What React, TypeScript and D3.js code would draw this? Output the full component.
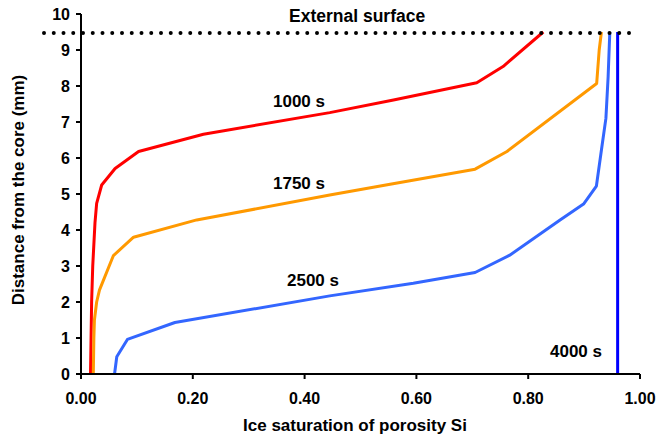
import React from 'react';
import * as d3 from 'd3';

// ice saturation (x) vs distance from core in mm (y)
const s1000x = [0.017, 0.018, 0.019, 0.021, 0.025, 0.028, 0.037, 0.061, 0.103, 0.219, 0.445, 0.559, 0.708, 0.755, 0.827];
const s1000y = [0, 1, 2, 3, 4.2, 4.74, 5.25, 5.71, 6.18, 6.66, 7.26, 7.61, 8.09, 8.54, 9.5];
const s1750x = [0.022, 0.023, 0.024, 0.028, 0.033, 0.058, 0.094, 0.207, 0.445, 0.553, 0.705, 0.762, 0.9225, 0.927, 0.931];
const s1750y = [0, 1, 1.5, 2.0, 2.33, 3.29, 3.8, 4.28, 4.97, 5.27, 5.69, 6.18, 8.07, 9.0, 9.5];
const s2500x = [0.06, 0.064, 0.083, 0.168, 0.445, 0.5945, 0.705, 0.767, 0.857, 0.899, 0.922, 0.931, 0.939, 0.943, 0.946];
const s2500y = [0, 0.48, 0.96, 1.43, 2.17, 2.52, 2.82, 3.3, 4.28, 4.72, 5.22, 6.22, 7.1, 8.26, 9.5];
const s4000x = [0.96, 0.96];
const s4000y = [0, 9.5];

const surfaceLevel = 9.47;
const xTicks = [0, 0.2, 0.4, 0.6, 0.8, 1.0];
const yTicks = [0, 1, 2, 3, 4, 5, 6, 7, 8, 9, 10];

const W = 659;
const H = 440;
const font = '"Liberation Sans", Arial, sans-serif';

const x = d3.scaleLinear().domain([0, 1]).range([81, 640]);
const y = d3.scaleLinear().domain([0, 10]).range([374, 14]);

const series = [
  { xs: s1000x, ys: s1000y, color: '#ff0000' },
  { xs: s1750x, ys: s1750y, color: '#ff9900' },
  { xs: s2500x, ys: s2500y, color: '#3366ff' },
  { xs: s4000x, ys: s4000y, color: '#0000ff' },
];

const line = d3.line<[number, number]>()
  .x(d => x(d[0]))
  .y(d => y(d[1]));

export default function App() {
  return (
    <svg width={W} height={H} style={{ position: 'absolute', left: 0, top: 0, background: '#fff' }}
      fontFamily={font} fontWeight="bold">
      {/* curves */}
      {series.map((s, i) => (
        <path key={i} d={line(s.xs.map((v, j) => [v, s.ys[j]] as [number, number])) || ''}
          fill="none" stroke={s.color} strokeWidth={3} strokeLinejoin="round" />
      ))}

      {/* external surface dotted line */}
      <line x1={44} x2={638} y1={y(surfaceLevel)} y2={y(surfaceLevel)}
        stroke="#000" strokeWidth={4} strokeLinecap="round" strokeDasharray="0 9.75" />

      {/* axes */}
      <line x1={x(0)} x2={x(0)} y1={y(0) + 1} y2={y(10)} stroke="#000" strokeWidth={2} />
      <line x1={x(0) - 1} x2={x(1)} y1={y(0)} y2={y(0)} stroke="#000" strokeWidth={2} />
      {yTicks.map(t => (
        <g key={'y' + t}>
          <line x1={x(0) - 5} x2={x(0)} y1={y(t)} y2={y(t)} stroke="#000" strokeWidth={2} />
          <text x={70} y={y(t) + 6} textAnchor="end" fontSize={16}>{t}</text>
        </g>
      ))}
      {xTicks.map(t => (
        <g key={'x' + t}>
          <line x1={x(t)} x2={x(t)} y1={y(0)} y2={y(0) + 5} stroke="#000" strokeWidth={2} />
          <text x={x(t)} y={404} textAnchor="middle" fontSize={16}>{t.toFixed(2)}</text>
        </g>
      ))}

      {/* axis titles */}
      <text x={355} y={431} textAnchor="middle" fontSize={17}>Ice saturation of porosity Si</text>
      <text transform="translate(24,190) rotate(-90)" textAnchor="middle" fontSize={17}>
        Distance from the core (mm)
      </text>

      {/* annotations */}
      <text x={289} y={22} fontSize={17.5}>External surface</text>
      <text x={273} y={107} fontSize={17}>1000 s</text>
      <text x={273} y={189} fontSize={17}>1750 s</text>
      <text x={287} y={286} fontSize={17}>2500 s</text>
      <text x={550} y={357} fontSize={17}>4000 s</text>
    </svg>
  );
}
